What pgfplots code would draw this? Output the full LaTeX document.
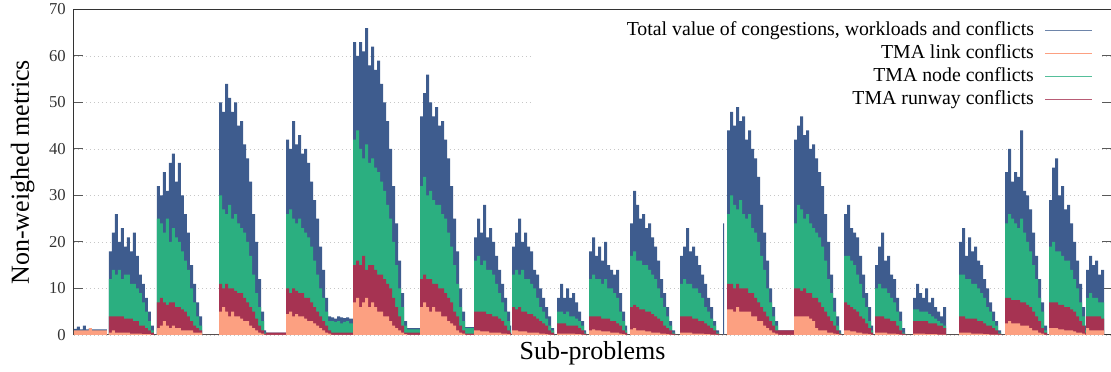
\documentclass[border=0pt]{standalone}
\usepackage{fontspec}
\setmainfont{Liberation Serif}
\usepackage{pgfplots}
\usepackage{pgfplotstable}
\pgfplotsset{compat=1.18}
\definecolor{cblue}{RGB}{62,92,142}
\definecolor{cgreen}{RGB}{43,175,128}
\definecolor{cred}{RGB}{166,51,82}
\definecolor{csalmon}{RGB}{252,160,129}
\pgfplotstableread{
x t n r l
74 1.3 0 0 1
77 1.8 0 0 1
80 1.2 0 0 1
83 2.0 0 0 1
86 1.2 0 0 1
89 1.5 0 0 1.5
92 1.2 0 0 1
95 1.2 0 0 1
98 1.2 0 0 1
101 1.2 0 0 1
104 1.2 0 0 1
107 0 0 0 0
109 18 12 4 0.5
112 22 14 4 1
115 26 13 4 0.5
118 20 14 4 0.5
121 23 12 4 0.5
124 19 13 3.5 0.5
127 21 13 3.5 0.5
130 18 11 3.5 0.3
133 22 11 3 0.3
136 17 10 3 0.3
139 13 9 2 0.3
142 11 7 2 0.2
145 8 5 1.5 0.2
148 5 3 1 0.2
151 2 1 0.5 0
154 0 0 0 0
157 32 25 7 1.5
160 30 24 8 2
163 35 22 7 3
166 31 25 6.5 2
169 37 20 7 1.5
172 39 23 7 2
175 33 21 6 1.5
178 37 20 6 1.5
181 30 18 5.5 1
184 26 16 5 1
187 22 14 4 1
190 15 10 3 1
193 11 7 2 0.5
196 7 4 1.5 0.5
199 4 2 1 0.5
202 0 0 0 0
219 50 30 11 5
222 48 27 10 6
225 54 26 11 5
228 51 28 10 4
231 48 25 10 5
234 50 26 9.5 4
237 45 24 9 4
240 46 23 9 3.5
243 41 22 8 3
246 38 20 7 3
249 33 17 6 2
252 26 13 5 1.5
255 20 9 3.5 1
258 12 6 2 0.5
261 5 3 1 0.3
264 1 0.5 0.3 0
266 0.5 0 0.5 0
286 42 26 10 4.5
289 40 27 9 5
292 46 25 10 4
295 41 24 9.5 4.5
298 43 25 9 4
301 39 23 9 4
304 40 22 8 3.5
307 37 21 8 3
310 33 19 7 3
313 29 16 6 2.5
316 25 13 5 2
319 19 10 4 1.5
322 14 8 3 1
325 8 5 2 0.5
328 4 3 1 0.3
331 3.8 3 0.5 0
334 3.5 2.8 0.5 0
337 4 3 0.5 0
340 3.8 2.5 0.5 0
343 3.6 2.8 0.5 0
346 3.8 3 0.5 0
349 3.5 2.5 0.5 0
353 63 42 15 7
356 60 44 16 8
359 63 40 15 6
362 61 38 17 7
365 66 41 14 8
368 58 37 15 6
371 62 38 15 7
374 57 36 14 6
377 59 35 13 5
380 54 33 13 5
383 50 31 12 4
386 46 28 11 4
389 40 25 10 3
392 32 20 8 2
395 24 15 6 1.5
398 16 10 4 1
401 9 6 2 0.5
404 3 2 0.5 0.2
407 1.5 1.2 0.5 0
420 47 32 12 6
423 52 34 13 7
426 56 30 12 6
429 50 31 12 5
432 47 29 11 6
435 49 28 11 5
438 45 28 10 5
441 46 26 10 4
444 42 25 9 4
447 38 22 8 3
450 32 19 7 2.5
453 25 15 5 2
456 18 11 4 1
459 10 6 2 0.5
462 5 3 1 0.3
465 1.7 1.5 0.3 0
474 21 16 5 1
477 25 17 5 1
480 22 15 5 0.8
483 28 16 5 0.8
486 21 14 4.5 0.8
489 23 14 4.5 0.5
492 20 13 4 0.5
495 17 11 4 0.5
498 14 9 3.5 0.5
501 11 7 3 0.3
504 8 5 2 0.3
507 5 3 1 0.2
510 2 1 0.5 0
511 0 0 0 0
512 19 13 6 1
515 22 14 5.5 1
518 25 13 6 0.8
521 20 14 5 0.8
524 22 12 5 0.8
527 19 12 4.5 0.5
530 18 11 4.5 0.5
533 14 10 4 0.5
536 13 8 3.5 0.5
539 10 6 3 0.3
542 8 5 2.5 0.3
545 6 3.5 2 0.2
548 4 2 1 0.1
551 1.5 1 0.5 0
554 0 0 0 0
557 8 5 2.5 0.3
560 11 5 2.5 0.3
563 8 4.5 2.5 0.3
566 10 5 2 0.3
569 8 4 2 0.3
572 9 4 2 0.3
575 7 3.5 2 0.2
578 5 3 1.5 0.2
581 3 2 1 0.1
584 1 0.5 0.3 0
586 0 0 0 0
589 18 12 4 1
592 21 13 4 1.2
595 17 12 4 1
598 19 12 4 1
601 16 11 3.5 0.8
604 20 12 3.5 0.8
607 15 10 3.5 0.8
610 14 10 3 0.5
613 13 9 3 0.5
616 14 8 2.5 0.5
619 9 5 2 0.3
622 5 3 1 0.2
625 2 1 0.5 0
627 0 0 0 0
630 24 17 6 1.2
633 31 18 6.5 1.5
636 28 16 6 1
639 25 16 5.5 1
642 26 15 5.5 1
645 23 15 5 0.8
648 24 14 5 0.8
651 21 13 4.5 0.5
654 19 12 4 0.5
657 16 10 3.5 0.5
660 12 8 3 0.3
663 9 6 2 0.3
666 6 4 1.5 0.2
669 3 2 1 0.1
672 1 0.5 0.3 0
675 0 0 0 0
680 17 11 4 0.5
683 19 12 4 0.5
686 23 11 4 0.5
689 18 11 4 0.5
692 19 10 3.5 0.3
695 17 10 3.5 0.3
698 15 9 3 0.3
701 13 8 3 0.3
704 11 6 2.5 0.2
707 8 5 2 0.2
710 6 3.5 1.5 0.1
713 3 2 1 0.1
716 1 0.5 0.3 0
719 0 0 0 0
723 24 0 0 0
724 0 0 0 0
727 44 26 11 5.5
730 48 30 11 5.5
733 45 28 10 5
736 49 27 11 6
739 46 29 10 5
742 47 26 10 5
745 42 25 10 5
748 44 26 9 5
751 40 23 9 4
754 38 22 8 4
757 34 20 7 3
760 28 17 6 3
763 22 14 5 2
766 16 10 4 1.5
769 10 7 3 1
772 6 4 2 0.5
775 3 2 1 0.3
778 1 0.5 1 0
780 1 0 1 0
794 42 24 10 4
797 45 28 10 4
800 47 27 9.5 4
803 43 25 10 4
806 44 26 9 4
809 40 24 9 3.5
812 41 23 8 3
815 38 22 8 1.5
818 35 21 7 1
821 32 19 6 1
824 26 16 5 1
827 20 12 4 0.5
830 13 9 3 0.5
833 8 5 2 0.3
836 4 2 1 0.2
839 1 0.5 0.3 0
841 0 0 0 0
844 26 17 7 1
847 28 17 6.5 1
850 23 16 6 0.8
853 22 15 5.5 0.8
856 21 13 5 0.5
859 17 11 4 0.5
862 13 8 3.5 0.3
865 9 6 2.5 0.3
868 6 3 1.5 0.2
871 2 1 0.5 0
873 0 0 0 0
875 15 10 4 0.5
878 19 11 4 0.5
881 22 10 4 0.5
884 16 10 3.5 0.5
887 17 9 3.5 0.3
890 13 8 3 0.3
893 12 7 3 0.3
896 8 5 2 0.2
899 5 3 1 0.1
902 1.5 0.5 0.3 0
905 0 0 0 0
913 8 5.5 3 0.3
916 11 5.5 3 0.3
919 9 5 3 0.3
922 8 5 3 0.3
925 10 5 3 0.2
928 7 4.5 2.5 0.2
931 8 4 2.5 0.2
934 6 3.5 2.5 0.2
937 5 3 2 0.1
940 4 2.5 2 0.1
943 6 2 1.5 0.1
946 0 0 0 0
959 20 13 4 0.5
962 23 13 4 0.5
965 17 12 3.5 0.5
968 21 12 3.5 0.5
971 18 11 3.5 0.3
974 19 11 3.5 0.3
977 16 10 3 0.3
980 15 9 3 0.3
983 12 8 2.5 0.2
986 10 6 2 0.2
989 7 5 2 0.1
992 5 3 1.5 0.1
995 3 2 1 0.1
998 1 0.5 0.3 0
1001 0 0 0 0
1005 35 24 8 2.5
1008 40 26 8 3
1011 33 25 7.5 2.5
1014 35 24 7.5 2.5
1017 34 23 7.5 2.5
1020 44 25 7 2
1023 31 22 7 2
1026 30 20 6.5 2
1029 27 18 6 1.5
1032 22 15 5 1
1035 17 12 4 1
1038 12 8 3 0.5
1041 7 5 1.5 0.3
1044 2 1 0.5 0
1047 0 0 0 0
1049 29 19 7 1.5
1052 36 20 7 1.5
1055 38 18 7 1.5
1058 30 18 6.5 1.2
1061 32 17 6.5 1.2
1064 27 16 6 1
1067 28 16 6 1
1070 24 14 5.5 1
1073 20 12 5 0.8
1076 16 10 4 0.5
1079 11 7 3 0.5
1082 6 4 2 0.3
1085 2 1 0.5 0
1086 14 8 4 1.5
1089 17 9 4 1
1092 15 8 4 1
1095 16 8 4 1
1098 13 7 4 1
1101 14 7 3.5 1
1104 0 0 0 0
}\data
\begin{document}
\begin{tikzpicture}
\begin{axis}[
  name=ax,
  scale only axis,
  width=777.75pt, height=244.125pt,
  xmin=74, xmax=1111, ymin=0, ymax=70,
  xtick=\empty,
  ytick={0,10,...,70},
  ymajorgrids,
  grid style={line width=0.6pt, black!22, dash pattern=on 0.6pt off 2.4pt},
  axis line style={line width=0.75pt, black!80},
  major tick length=6.5pt,
  tick style={line width=0.75pt, black!65},
  tick label style={font=\fontsize{12.5}{14}\selectfont, text=black!80},
  yticklabel style={inner xsep=0pt, xshift=-6pt},
  /pgf/number format/assume math mode=true,
  xlabel={Sub-problems},
  ylabel={Non-weighed metrics},
  every axis y label/.style={at={(axis description cs:-0.0434,0.5)}, rotate=90, anchor=base, font=\fontsize{19.5}{22}\selectfont},
  every axis x label/.style={at={(axis description cs:0.5,-0.0768)}, anchor=base, font=\fontsize{19.5}{22}\selectfont},
  legend style={at={(1,1)}, anchor=north east, xshift=-13.5pt, yshift=-8.15pt,
    draw=none, fill=none, inner sep=0pt,
    nodes={inner sep=0pt, text height=11pt, text depth=3.5pt},
    column sep=8pt, row sep=2.75pt,
    font=\fontsize{14.85}{17.25}\selectfont},
  legend cell align=right,
  legend plot pos=right,
  legend image code/.code={\draw[#1, line width=1.1pt] (0pt,0pt) -- (35pt,0pt);},
]
\fill[white] (axis cs:532,49.5) rectangle (axis cs:1101,69.6);
\addplot[const plot, fill=cblue, draw=none, forget plot] table[x=x,y=t]{\data} \closedcycle;
\addplot[const plot, fill=cgreen, draw=none, forget plot] table[x=x,y=n]{\data} \closedcycle;
\addplot[const plot, fill=cred, draw=none, forget plot] table[x=x,y=r]{\data} \closedcycle;
\addplot[const plot, fill=csalmon, draw=none, forget plot] table[x=x,y=l]{\data} \closedcycle;
\addlegendimage{cblue!75}
\addlegendentry{Total value of congestions, workloads and conflicts}
\addlegendimage{csalmon}
\addlegendentry{TMA link conflicts}
\addlegendimage{cgreen!80}
\addlegendentry{TMA node conflicts}
\addlegendimage{cred!80}
\addlegendentry{TMA runway conflicts}
\end{axis}
\pgfresetboundingbox
\path[use as bounding box] ([xshift=-55.5pt,yshift=-27.75pt]ax.south west) rectangle ([yshift=7.125pt]ax.north east);
\end{tikzpicture}
\end{document}
